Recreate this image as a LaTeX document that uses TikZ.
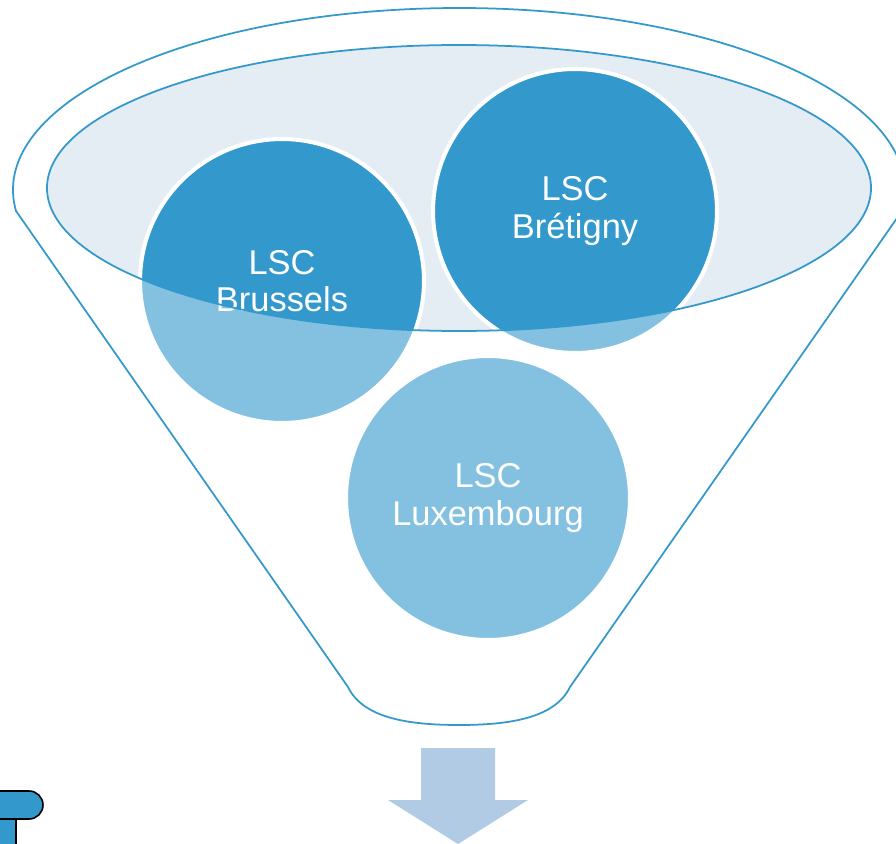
\documentclass[tikz,border=0pt]{standalone}
\usepackage{fontspec}
\setmainfont{Liberation Sans}
\usetikzlibrary{shapes,calc}
\definecolor{lscblue}{RGB}{51,153,204}
\definecolor{lscpale}{RGB}{228,236,244}
\definecolor{lscarrow}{RGB}{176,203,227}

\begin{document}
\begin{tikzpicture}[x=0.02cm, y=0.02cm,
  lsc/.style={circle, fill=lscblue, draw=white, line width=2.3pt, minimum size=5.68cm, inner sep=0pt,
    text=white, align=center, font=\fontsize{19.6}{21.2}\selectfont},
  rim/.style={draw=lscblue, line width=1pt}]
  \useasboundingbox (0,0) rectangle (896,843);
  \clip (0,0) rectangle (896,843);

  % Define funnel outline (top rim arc, sides, rounded spout)
  \def\funnel{(459,653) ++(186.6:446 and 182) arc[start angle=186.6, end angle=-6.6, x radius=446, y radius=182]
    -- (570,156) .. controls (555,125) and (510,118) .. (459,118) .. controls (408,118) and (363,125) .. (348,156) -- cycle}
  \def\mouth{(459,655) ellipse[x radius=412, y radius=143]}

  % Inner ellipse (mouth of the funnel)
  \fill[lscpale] \mouth;

  % The three circles
  \node[lsc] (brussels) at (282,562) {LSC\\Brussels};
  \node[lsc] (bretigny) at (575,632) {LSC\\Brétigny};
  \node[lsc] (luxembourg) at (488,345) {LSC\\Luxembourg};

  % Funnel body over the circles
  \fill[white, opacity=0.4, even odd rule] \funnel \mouth;
  \draw[rim] \mouth;
  \draw[rim] \funnel;

  % Down arrow below the spout
  \fill[lscarrow] (421,95) -- (495,95) -- (495,43) -- (528,43) -- (458,-1) -- (388,43) -- (421,43) -- cycle;

  % Cut-off shape at bottom left
  \filldraw[fill=lscblue, draw=black, line width=0.9pt] (-20,-20) rectangle (16,24);
  \filldraw[fill=lscblue, draw=black, line width=0.9pt, rounded corners=0.28cm] (-30,24) rectangle (43,52);
\end{tikzpicture}
\end{document}
